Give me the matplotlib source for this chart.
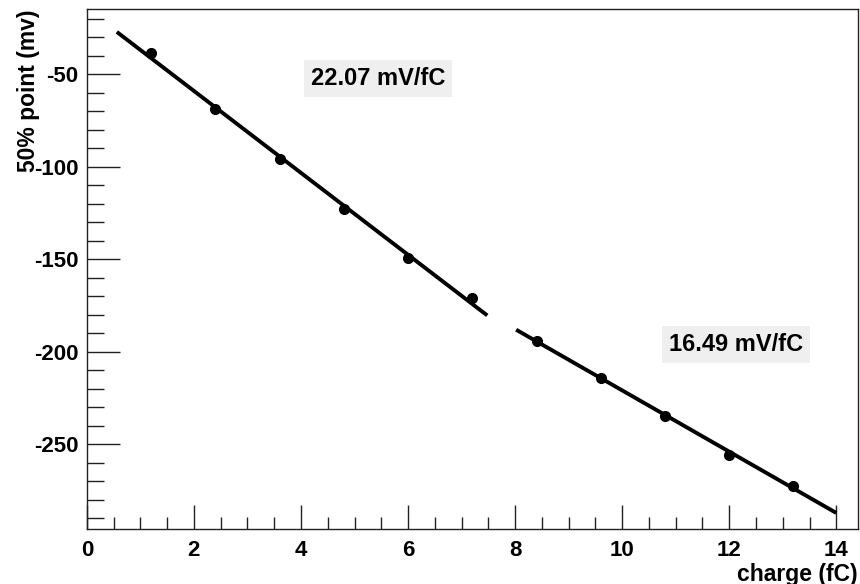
import numpy as np
import matplotlib
matplotlib.use('Agg')
import matplotlib.pyplot as plt
from matplotlib.ticker import MultipleLocator

plt.rcParams['font.family'] = ['Liberation Sans', 'DejaVu Sans']
plt.rcParams['font.weight'] = 'bold'
plt.rcParams['axes.unicode_minus'] = False

# measured points (charge in fC, 50% point in mV)
charge = [1.2, 2.4, 3.6, 4.8, 6.0, 7.2, 8.4, 9.6, 10.8, 12.0, 13.2]
point50 = [-38.7, -68.9, -95.9, -122.9, -149.4, -171.0, -194.0, -214.0, -234.7, -255.7, -272.5]

# fit ranges and labels
fit1_range = [0.56, 7.48]
fit2_range = [8.02, 14.0]
fit1_label = '22.07 mV/fC'
fit2_label = '16.49 mV/fC'

fig = plt.figure(figsize=(8.6, 5.84), dpi=100)
ax = fig.add_axes([0.101, 0.0937, 0.8963, 0.8903])

x = np.array(charge)
y = np.array(point50)

# linear fits on the two groups of points
p1 = np.polyfit(x[:6], y[:6], 1)
p2 = np.polyfit(x[6:], y[6:], 1)
xs1 = np.array(fit1_range)
xs2 = np.array(fit2_range)
ax.plot(xs1, np.polyval(p1, xs1), color='black', lw=2.8, solid_capstyle='butt')
ax.plot(xs2, np.polyval(p2, xs2), color='black', lw=2.8, solid_capstyle='butt')
ax.plot(x, y, 'o', color='black', ms=7)

ax.set_xlim(0, 14.4)
ax.set_ylim(-296, -15)

ax.xaxis.set_major_locator(MultipleLocator(2))
ax.xaxis.set_minor_locator(MultipleLocator(0.5))
ax.yaxis.set_major_locator(MultipleLocator(50))
ax.yaxis.set_minor_locator(MultipleLocator(10))

sc = '#222222'
for s in ['left', 'bottom', 'right', 'top']:
    ax.spines[s].set_color(sc)
    ax.spines[s].set_linewidth(1.0)

ax.tick_params(axis='both', which='both', direction='in', color=sc, width=1.0,
               top=False, right=False, labelsize=16)
ax.tick_params(axis='x', which='major', length=17, pad=8)
ax.tick_params(axis='x', which='minor', length=9)
ax.tick_params(axis='y', which='major', length=24, pad=6)
ax.tick_params(axis='y', which='minor', length=12)
for lab in ax.get_xticklabels() + ax.get_yticklabels():
    lab.set_fontweight('bold')

ax.set_xlabel('charge (fC)', fontsize=16.5, fontweight='bold', loc='right')
ax.set_ylabel('50% point (mv)', fontsize=16.5, fontweight='bold', loc='top')
ax.xaxis.set_label_coords(1.0, -0.064)
ax.yaxis.set_label_coords(-0.061, 1.0)

box = dict(boxstyle='square,pad=0.3', facecolor='#efefef', edgecolor='none')
ax.text(0.3776, 0.867, fit1_label, transform=ax.transAxes, ha='center', va='center',
        fontsize=17, fontweight='bold', bbox=box)
ax.text(0.842, 0.356, fit2_label, transform=ax.transAxes, ha='center', va='center',
        fontsize=17, fontweight='bold', bbox=box)

fig.savefig('out.png', dpi=100)
